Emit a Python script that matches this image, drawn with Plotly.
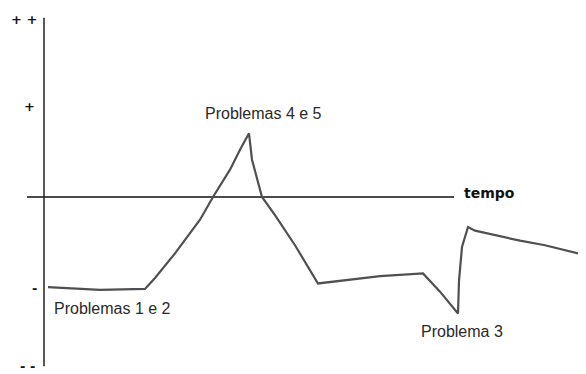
import plotly.graph_objects as go

# Time (arbitrary units) and level (-- = -2, - = -1, 0, + = 1, ++ = 2)
tempo = [0.4, 2.6, 5.6, 10.1, 11.1, 13.1, 15.6, 16.9, 18.6, 19.6, 20.5, 20.8, 21.8,
         23.1, 25.1, 27.4, 29.6, 33.6, 37.9, 39.6, 41.4, 41.5, 41.8, 42.4, 43.1,
         45.6, 47.6, 50.1, 52.1, 54.2]
nivel = [-0.99, -1.0, -1.02, -1.01, -0.89, -0.62, -0.25, 0.0, 0.30, 0.52, 0.70, 0.41, 0.0,
         -0.20, -0.53, -0.95, -0.92, -0.87, -0.84, -1.04, -1.28, -0.92, -0.55, -0.33, -0.37,
         -0.43, -0.48, -0.53, -0.58, -0.64]

escala_val = [1.95, 1, -1, -1.86]
escala_txt = ["+ +", "+", "-", "- -"]
escala_x = [-2.0, -1.5, -1.0, -1.7]

rotulos = ["Problemas 1 e 2", "Problemas 4 e 5", "Problema 3"]
rotulos_x = [6.85, 21.9, 41.8]
rotulos_y = [-1.23, 0.92, -1.48]

eixo_x = [-1.7, 41.0]   # extent of time axis
eixo_y = [-1.86, 1.97]  # extent of level axis

fig = go.Figure()
fig.add_trace(go.Scatter(x=eixo_x, y=[0, 0], mode="lines",
                         line=dict(color="#111111", width=1.5), hoverinfo="skip"))
fig.add_trace(go.Scatter(x=[0, 0], y=eixo_y, mode="lines",
                         line=dict(color="#222222", width=1.5), hoverinfo="skip"))
fig.add_trace(go.Scatter(x=tempo, y=nivel, mode="lines",
                         line=dict(color="#505050", width=2.2), hoverinfo="skip"))

for t, x, y in zip(rotulos, rotulos_x, rotulos_y):
    fig.add_annotation(x=x, y=y, text=t, showarrow=False,
                       font=dict(family="Liberation Sans, Arial", size=16, color="#2a2a2a"))

for t, x, y in zip(escala_txt, escala_x, escala_val):
    fig.add_annotation(x=x, y=y, text="<b>" + t + "</b>", showarrow=False, borderpad=0,
                       font=dict(family="DejaVu Sans", size=13, color="#111111"))

fig.add_annotation(x=41.8, y=0.04, text="<b>tempo</b>", showarrow=False, xanchor="left",
                   font=dict(family="DejaVu Sans", size=14, color="#111111"))

fig.update_layout(
    width=586, height=374,
    margin=dict(l=0, r=0, t=0, b=0),
    paper_bgcolor="white", plot_bgcolor="white",
    showlegend=False,
    xaxis=dict(range=[-3.6, 55.0], visible=False, fixedrange=True),
    yaxis=dict(range=[-2.033, 2.077], visible=False, fixedrange=True),
)

fig.write_html("out.html")
